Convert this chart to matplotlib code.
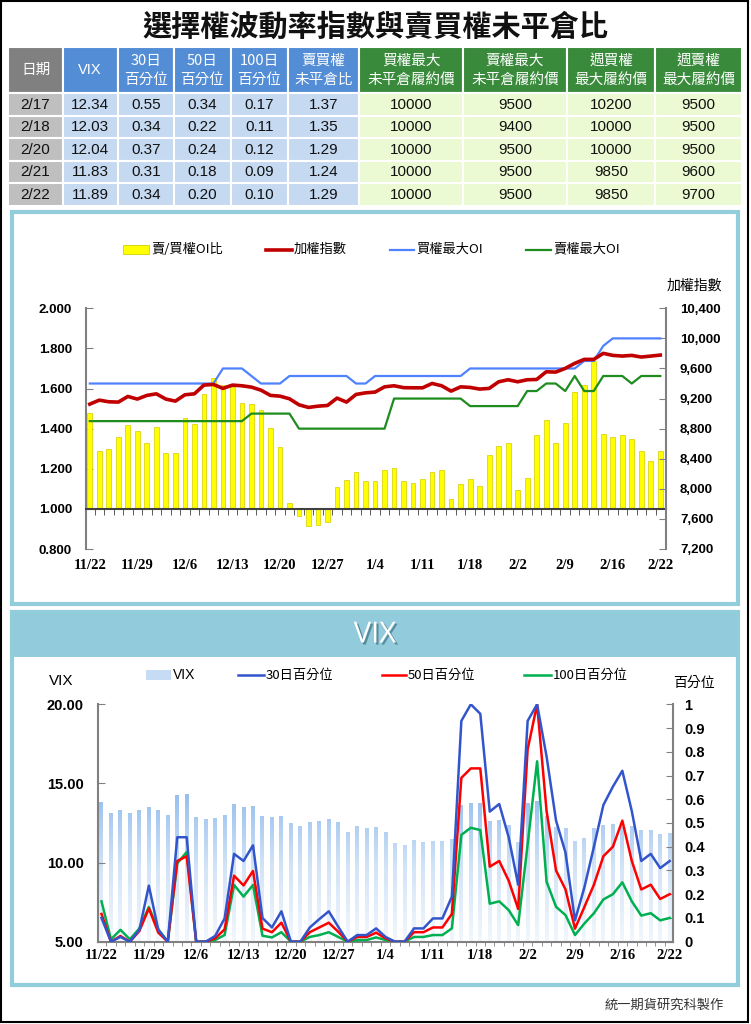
import numpy as np
import matplotlib
matplotlib.use("Agg")
import matplotlib.pyplot as plt
import matplotlib.patheffects as pe
from matplotlib.patches import Rectangle
from matplotlib.colors import LinearSegmentedColormap
from matplotlib.ticker import FuncFormatter

plt.rcParams['font.family'] = ['Noto Sans CJK TC', 'DejaVu Sans']

# ---- table data (last 5 trading days)
tbl_dates = ['2/17', '2/18', '2/20', '2/21', '2/22']
tbl_vix = [12.34, 12.03, 12.04, 11.83, 11.89]
tbl_p30 = [0.55, 0.34, 0.37, 0.31, 0.34]
tbl_p50 = [0.34, 0.22, 0.24, 0.18, 0.20]
tbl_p100 = [0.17, 0.11, 0.12, 0.09, 0.10]
tbl_ratio = [1.37, 1.35, 1.29, 1.24, 1.29]
tbl_call_max = [10000, 10000, 10000, 10000, 10000]
tbl_put_max = [9500, 9400, 9500, 9500, 9500]
tbl_wk_call = [10200, 10000, 10000, 9850, 9850]
tbl_wk_put = [9500, 9500, 9500, 9600, 9700]

# ---- chart series (61 trading days)
xt_labels = ['11/22', '11/29', '12/6', '12/13', '12/20', '12/27', '1/4',
             '1/11', '1/18', '2/2', '2/9', '2/16', '2/22']

pc_ratio = [1.48, 1.29, 1.30, 1.36, 1.42, 1.39, 1.33, 1.41, 1.28, 1.28,
            1.455, 1.425, 1.575, 1.655, 1.62, 1.61, 1.53, 1.525, 1.495, 1.405,
            1.31, 1.03, 0.965, 0.915, 0.92, 0.935, 1.11, 1.145, 1.185, 1.14,
            1.14, 1.195, 1.205, 1.14, 1.13, 1.15, 1.185, 1.195, 1.05, 1.125,
            1.15, 1.115, 1.27, 1.315, 1.33, 1.095, 1.155, 1.37, 1.445, 1.33,
            1.43, 1.585, 1.62, 1.735, 1.375, 1.36, 1.37, 1.35, 1.29, 1.24, 1.29]

taiex = [9126, 9179, 9157, 9153, 9228, 9193, 9242, 9263, 9193, 9166,
         9250, 9263, 9379, 9388, 9335, 9379, 9370, 9352, 9312, 9242,
         9232, 9197, 9117, 9082, 9099, 9108, 9206, 9153, 9255, 9276,
         9286, 9356, 9370, 9345, 9343, 9343, 9401, 9370, 9299, 9356,
         9348, 9326, 9335, 9423, 9450, 9423, 9450, 9454, 9556, 9552,
         9601, 9668, 9721, 9721, 9801, 9774, 9765, 9774, 9752, 9765, 9778]

call_oi = ([9400] * 14 + [9600] * 3 + [9500] + [9400] * 3 + [9500] * 7 +
           [9400] * 2 + [9500] * 10 + [9600] * 12 + [9700] * 2 + [9900] +
           [10000] * 6)

put_oi = ([8900] * 17 + [9000] * 5 + [8800] * 10 + [9200] * 8 + [9100] * 6 +
          [9300] * 2 + [9400] * 2 + [9300] + [9500] + [9300] * 2 + [9500] * 3 +
          [9400] + [9500] * 3)

vix = [13.81, 13.11, 13.33, 13.11, 13.33, 13.53, 13.33, 12.99, 14.27, 14.34,
       12.88, 12.78, 12.84, 13.00, 13.68, 13.51, 13.56, 12.93, 12.88, 12.93,
       12.50, 12.29, 12.57, 12.65, 12.74, 12.57, 11.92, 12.29, 12.17, 12.23,
       11.94, 11.22, 11.09, 11.43, 11.30, 11.37, 11.37, 11.49, 13.64, 13.75,
       13.75, 12.65, 12.69, 12.36, 11.30, 13.75, 13.90, 12.95, 12.27, 12.21,
       11.38, 11.53, 12.17, 12.38, 12.42, 12.27, 12.34, 12.03, 12.04, 11.83, 11.89]

p30 = [0.10, 0.0, 0.02, 0.0, 0.05, 0.236, 0.05, 0.0, 0.44, 0.44,
       0.0, 0.0, 0.024, 0.098, 0.37, 0.34, 0.406, 0.10, 0.06, 0.128,
       0.0, 0.0, 0.06, 0.095, 0.128, 0.063, 0.0, 0.028, 0.028, 0.056,
       0.02, 0.0, 0.0, 0.056, 0.056, 0.098, 0.098, 0.19, 0.93, 1.0,
       0.96, 0.548, 0.58, 0.44, 0.24, 0.93, 1.0, 0.78, 0.51, 0.375,
       0.09, 0.23, 0.40, 0.576, 0.653, 0.72, 0.55, 0.34, 0.37, 0.31, 0.34]

p50 = [0.117, 0.0, 0.024, 0.0, 0.045, 0.14, 0.038, 0.0, 0.34, 0.36,
       0.0, 0.0, 0.014, 0.052, 0.278, 0.237, 0.298, 0.055, 0.04, 0.08,
       0.0, 0.0, 0.04, 0.06, 0.08, 0.042, 0.0, 0.02, 0.02, 0.038,
       0.014, 0.0, 0.0, 0.04, 0.04, 0.06, 0.06, 0.117, 0.69, 0.73,
       0.73, 0.316, 0.34, 0.257, 0.138, 0.81, 1.0, 0.55, 0.30, 0.22,
       0.055, 0.147, 0.24, 0.36, 0.40, 0.51, 0.34, 0.22, 0.24, 0.18, 0.20]

p100 = [0.17, 0.01, 0.05, 0.01, 0.056, 0.146, 0.052, 0.0, 0.33, 0.378,
        0.0, 0.0, 0.007, 0.028, 0.239, 0.19, 0.239, 0.025, 0.018, 0.04,
        0.0, 0.0, 0.02, 0.028, 0.04, 0.02, 0.0, 0.007, 0.007, 0.018,
        0.007, 0.0, 0.0, 0.02, 0.02, 0.028, 0.028, 0.056, 0.45, 0.48,
        0.47, 0.16, 0.17, 0.133, 0.07, 0.41, 0.76, 0.253, 0.147, 0.112,
        0.028, 0.077, 0.12, 0.178, 0.20, 0.25, 0.17, 0.11, 0.12, 0.09, 0.10]

W, H = 751, 1024
fig = plt.figure(figsize=(W / 100, H / 100), dpi=100)
bg = fig.add_axes([0, 0, 1, 1])
bg.set_xlim(0, W)
bg.set_ylim(H, 0)
bg.axis('off')
bg.set_zorder(0)


def ax_rect(l, t, r, b):
    return [l / W, 1 - b / H, (r - l) / W, (b - t) / H]


# outer frame + title
bg.add_patch(Rectangle((1, 1), 747, 1021, fill=False, edgecolor='black', lw=1.5))
bg.text(375, 27, '選擇權波動率指數與賣買權未平倉比', ha='center', va='center',
        fontsize=21, fontweight='bold', color='#111111')

# ---- table
col_x = [8, 63, 117.5, 174, 231, 288, 359, 463, 567, 655, 742]
row_y = [47, 93, 115.5, 138, 160.5, 183, 205.5]
headers = [['日期'], ['VIX'], ['30日', '百分位'], ['50日', '百分位'], ['100日', '百分位'],
           ['賣買權', '未平倉比'], ['買權最大', '未平倉履約價'], ['賣權最大', '未平倉履約價'],
           ['週買權', '最大履約價'], ['週賣權', '最大履約價']]
head_col = ['#808080'] + ['#538DD5'] * 5 + ['#3A8A3C'] * 4
body_col = ['#BFBFBF'] + ['#C5D9F1'] * 5 + ['#EBFAD2'] * 4
columns = [tbl_dates,
           [f'{v:.2f}' for v in tbl_vix],
           [f'{v:.2f}' for v in tbl_p30],
           [f'{v:.2f}' for v in tbl_p50],
           [f'{v:.2f}' for v in tbl_p100],
           [f'{v:.2f}' for v in tbl_ratio],
           [str(v) for v in tbl_call_max],
           [str(v) for v in tbl_put_max],
           [str(v) for v in tbl_wk_call],
           [str(v) for v in tbl_wk_put]]

for c in range(10):
    x0, x1 = col_x[c], col_x[c + 1]
    xc = (x0 + x1) / 2
    bg.add_patch(Rectangle((x0, row_y[0]), x1 - x0, row_y[1] - row_y[0],
                           facecolor=head_col[c], edgecolor='white', lw=1.5))
    lines = headers[c]
    if len(lines) == 1:
        bg.text(xc, 70, lines[0], ha='center', va='center', color='white',
                fontsize=10.5, family=['Liberation Sans', 'Noto Sans CJK TC'] if c == 1 else None)
    else:
        bg.text(xc, 61, lines[0], ha='center', va='center', color='white', fontsize=10.5)
        bg.text(xc, 80, lines[1], ha='center', va='center', color='white', fontsize=10.5)
    for r in range(5):
        y0, y1 = row_y[r + 1], row_y[r + 2]
        bg.add_patch(Rectangle((x0, y0), x1 - x0, y1 - y0,
                               facecolor=body_col[c], edgecolor='white', lw=1.5))
        bg.text(xc, (y0 + y1) / 2 + 0.5, columns[c][r], ha='center', va='center',
                fontsize=11, family='Liberation Sans', color='#111111')

# ---- panels
panel_c = '#92CDDC'
bg.add_patch(Rectangle((12, 212), 726, 392, fill=False, edgecolor=panel_c, lw=3))
bg.add_patch(Rectangle((12, 612), 726, 45, facecolor='#92CBDC', edgecolor='none'))
bg.add_patch(Rectangle((12, 612), 726, 373, fill=False, edgecolor=panel_c, lw=3))
bg.text(375, 635, 'VIX', ha='center', va='center', color='white', fontsize=21,
        family='Open Sans',
        path_effects=[pe.SimplePatchShadow(offset=(1.5, -1.5), shadow_rgbFace='#3f6f7c', alpha=0.7),
                      pe.Normal()])
bg.text(724, 1005, '統一期貨研究科製作', ha='right', va='center', fontsize=9.5, color='#333333')

x = np.arange(len(pc_ratio))
date_font = dict(family='Liberation Serif', fontweight='bold')

# ---- top chart
ax1 = fig.add_axes(ax_rect(86, 308.3, 666, 549))
ax1.set_zorder(1)
ax1.patch.set_visible(False)
ax1.bar(x, np.array(pc_ratio) - 1.0, bottom=1.0, width=0.5, color='#FFFF00',
        edgecolor='#D6CC00', lw=0.5, zorder=2)
ax1.set_ylim(0.8, 2.0)
ax1.set_xlim(-0.4, 60.6)
ax1.set_yticks(np.arange(0.8, 2.01, 0.2))
ax1.yaxis.set_major_formatter(FuncFormatter(lambda v, p: f'{v:.3f}'))
for s in ['top', 'right']:
    ax1.spines[s].set_visible(False)
ax1.spines['left'].set_color('#808080')
ax1.spines['left'].set_linewidth(1.5)
ax1.spines['bottom'].set_position(('data', 1.0))
ax1.spines['bottom'].set_color('#404040')
ax1.spines['bottom'].set_linewidth(1.5)
ax1.spines['bottom'].set_zorder(3)
ax1.set_xticks(np.arange(0, 61, 5), labels=xt_labels, fontsize=10.5, **date_font)
ax1.set_xticks(np.arange(0.5, 60, 1), minor=True)
ax1.tick_params(axis='x', which='major', length=0, pad=36)
ax1.tick_params(axis='x', which='minor', length=4, direction='out', color='#404040')
ax1.tick_params(axis='y', direction='in', length=5, color='#808080', pad=10)
for lb in ax1.get_yticklabels():
    lb.set_fontsize(9.5)
    lb.set_fontfamily('Liberation Sans')
    lb.set_fontweight('bold')

ax1r = ax1.twinx()
ax1r.set_zorder(2)
ax1r.plot(x, put_oi, color='#1E8C1E', lw=1.6)
ax1r.plot(x, call_oi, color='#4F82FF', lw=1.6)
ax1r.plot(x, taiex, color='#C00000', lw=2.6)
ax1r.set_ylim(7200, 10400)
ax1r.set_yticks(np.arange(7200, 10401, 400))
ax1r.yaxis.set_major_formatter(FuncFormatter(lambda v, p: f'{v:,.0f}'))
for s in ['top', 'left', 'bottom']:
    ax1r.spines[s].set_visible(False)
ax1r.spines['right'].set_color('#808080')
ax1r.spines['right'].set_linewidth(1.5)
ax1r.tick_params(axis='y', direction='in', length=5, color='#808080', pad=10)
for lb in ax1r.get_yticklabels():
    lb.set_fontsize(9.5)
    lb.set_fontfamily('Liberation Sans')
    lb.set_fontweight('bold')

# top legend
bg.add_patch(Rectangle((123, 245), 26, 9, facecolor='#FFFF00', edgecolor='#D8D000', lw=0.6))
bg.text(151, 249.5, '賣/買權OI比', va='center', fontsize=9.5)
bg.plot([266, 292], [249.5, 249.5], color='#C00000', lw=2.6)
bg.text(294, 249.5, '加權指數', va='center', fontsize=9.5)
bg.plot([390, 414], [249.5, 249.5], color='#4F82FF', lw=1.6)
bg.text(416, 249.5, '買權最大OI', va='center', fontsize=9.5)
bg.plot([526, 551], [249.5, 249.5], color='#1E8C1E', lw=1.6)
bg.text(553, 249.5, '賣權最大OI', va='center', fontsize=9.5)
bg.text(694, 286, '加權指數', ha='center', va='center', fontsize=10)

# ---- bottom chart
ax2 = fig.add_axes(ax_rect(97.7, 704.3, 673, 941.7))
ax2.set_zorder(1)
ax2.patch.set_visible(False)
bars = ax2.bar(x, np.array(vix) - 5, bottom=5, width=0.42, color='none', edgecolor='none')
grad_cmap = LinearSegmentedColormap.from_list('vixgrad', ['#F2F7FD', '#D3E4F7', '#96BFEE'])
grad = np.linspace(0, 1, 256).reshape(-1, 1)
for b in bars:
    x0 = b.get_x()
    im = ax2.imshow(grad, extent=(x0, x0 + b.get_width(), 5, 14.3), origin='lower',
                    aspect='auto', cmap=grad_cmap, zorder=1)
    im.set_clip_path(b)
ax2.set_xlim(-0.4, 60.35)
ax2.set_ylim(5, 20)
ax2.set_yticks([5, 10, 15, 20])
ax2.yaxis.set_major_formatter(FuncFormatter(lambda v, p: f'{v:.2f}'))
for s in ['top', 'right']:
    ax2.spines[s].set_visible(False)
for s in ['left', 'bottom']:
    ax2.spines[s].set_color('#808080')
    ax2.spines[s].set_linewidth(1.5)
ax2.set_xticks(np.arange(0, 61, 5), labels=xt_labels, fontsize=10.5, **date_font)
ax2.set_xticks(np.arange(0.5, 60, 1), minor=True)
ax2.tick_params(axis='x', which='major', length=0, pad=5)
ax2.tick_params(axis='x', which='minor', length=3, direction='out', color='#808080')
ax2.tick_params(axis='y', direction='in', length=5, color='#808080', pad=10)
for lb in ax2.get_yticklabels():
    lb.set_fontsize(10.5)
    lb.set_fontfamily('Liberation Sans')
    lb.set_fontweight('bold')

ax2r = ax2.twinx()
ax2r.set_zorder(2)
ax2r.plot(x, p100, color='#00B050', lw=1.8)
ax2r.plot(x, p50, color='#FF0000', lw=1.8)
ax2r.plot(x, p30, color='#3355CC', lw=1.8)
ax2r.set_ylim(0, 1)
ax2r.set_yticks(np.arange(0, 1.01, 0.1))
ax2r.yaxis.set_major_formatter(FuncFormatter(lambda v, p: f'{v:.1f}'.rstrip('0').rstrip('.') if v > 0 else '0'))
for s in ['top', 'left', 'bottom']:
    ax2r.spines[s].set_visible(False)
ax2r.spines['right'].set_color('#808080')
ax2r.spines['right'].set_linewidth(1.5)
ax2r.tick_params(axis='y', direction='in', length=5, color='#808080', pad=8)
for lb in ax2r.get_yticklabels():
    lb.set_fontsize(10.5)
    lb.set_fontfamily('Liberation Sans')
    lb.set_fontweight('bold')

# bottom legend
bg.add_patch(Rectangle((146, 670), 25, 10, facecolor='#C6DCF5', edgecolor='none'))
bg.text(173, 675, 'VIX', va='center', fontsize=10, family='Liberation Sans')
bg.plot([238, 264], [675, 675], color='#3355CC', lw=1.8)
bg.text(266, 675, '30日百分位', va='center', fontsize=9.5)
bg.plot([382, 406], [675, 675], color='#FF0000', lw=1.8)
bg.text(408, 675, '50日百分位', va='center', fontsize=9.5)
bg.plot([524, 551], [675, 675], color='#00B050', lw=1.8)
bg.text(553, 675, '100日百分位', va='center', fontsize=9.5)
bg.text(61, 681, 'VIX', ha='center', va='center', fontsize=11, family='Liberation Sans')
bg.text(694, 683, '百分位', ha='center', va='center', fontsize=10)

fig.savefig('out.png', dpi=100)
